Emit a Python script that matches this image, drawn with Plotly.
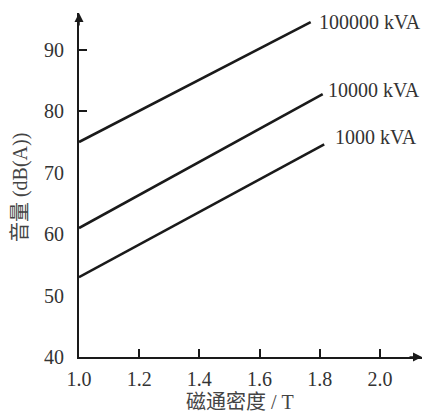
import plotly.graph_objects as go

# Data
series_names = ["100000 kVA", "10000 kVA", "1000 kVA"]
flux_start = [1.0, 1.0, 1.0]
flux_end = [1.77, 1.81, 1.815]
noise_start = [75.0, 61.0, 53.0]
noise_end = [94.5, 82.8, 74.6]

x_ticks = [1.0, 1.2, 1.4, 1.6, 1.8, 2.0]
x_ticklabels = ["1.0", "1.2", "1.4", "1.6", "1.8", "2.0"]
y_ticks = [40, 50, 60, 70, 80, 90]
y_ticklabels = ["40", "50", "60", "70", "80", "90"]
y_marked_ticks = [80, 90]

x_title = "磁通密度 / T"
y_title = "音量 (dB(A))"

# label offsets in pixels (style, not data)
label_shift = [(6, 0), (3, 4), (9, 7)]

serif = "Liberation Serif, Noto Sans CJK SC, serif"
line_col = "#1a1a1a"
txt_col = "#333333"
FS = 20

fig = go.Figure()
for i, name in enumerate(series_names):
    fig.add_trace(go.Scatter(
        x=[flux_start[i], flux_end[i]],
        y=[noise_start[i], noise_end[i]],
        mode="lines",
        line=dict(color=line_col, width=2.6),
        name=name,
        showlegend=False,
        hoverinfo="skip",
    ))
    dx, dy = label_shift[i]
    fig.add_annotation(
        x=flux_end[i], y=noise_end[i], xref="x", yref="y",
        text=name, showarrow=False, xanchor="left", yanchor="middle",
        xshift=dx, yshift=dy,
        font=dict(family=serif, size=FS, color=txt_col),
    )

# invisible trace for second y axis (ticks at 80, 90 only)
fig.add_trace(go.Scatter(x=[1.0], y=[40], yaxis="y2", mode="markers",
                         marker=dict(opacity=0), showlegend=False, hoverinfo="skip"))

x_range = [1.0, 2.14]
y_range = [40, 96]

fig.update_layout(
    width=428, height=416,
    margin=dict(l=79, r=6, t=13, b=59, autoexpand=False),
    paper_bgcolor="white", plot_bgcolor="white",
    showlegend=False,
    xaxis=dict(
        range=x_range, tickvals=x_ticks, ticktext=x_ticklabels,
        ticks="inside", ticklen=8, tickwidth=1.5, tickcolor=line_col,
        showline=True, linecolor=line_col, linewidth=2,
        showgrid=False, zeroline=False, fixedrange=True,
        tickfont=dict(family=serif, size=FS, color=txt_col),
        ticklabelstandoff=3, automargin=False,
    ),
    yaxis=dict(
        range=y_range, tickvals=y_ticks, ticktext=y_ticklabels,
        ticks="", showline=True, linecolor=line_col, linewidth=2,
        showgrid=False, zeroline=False, fixedrange=True,
        tickfont=dict(family=serif, size=FS, color=txt_col),
        ticklabelstandoff=9, automargin=False,
    ),
    yaxis2=dict(
        range=y_range, overlaying="y", anchor="x", side="left",
        tickvals=y_marked_ticks, ticks="inside", ticklen=8, tickwidth=1.5,
        tickcolor=line_col, showticklabels=False, showline=False,
        showgrid=False, zeroline=False, fixedrange=True, automargin=False,
    ),
)

# axis titles
fig.add_annotation(
    text=x_title, xref="paper", yref="paper", x=0.468, y=-0.131,
    xanchor="center", yanchor="middle", showarrow=False,
    font=dict(family=serif, size=FS, color="#444444"),
)
fig.add_annotation(
    text=y_title, xref="paper", yref="paper", x=-0.172, y=0.491,
    xanchor="center", yanchor="middle", showarrow=False, textangle=-90,
    font=dict(family=serif, size=FS, color="#444444"),
)

# arrowheads at axis ends
fig.add_annotation(x=1, y=0, xref="paper", yref="paper", ax=-14, ay=0,
                   axref="pixel", ayref="pixel", text="", showarrow=True,
                   arrowhead=2, arrowsize=1.2, arrowwidth=1.5, arrowcolor=line_col)
fig.add_annotation(x=0, y=1, xref="paper", yref="paper", ax=0, ay=14,
                   axref="pixel", ayref="pixel", text="", showarrow=True,
                   arrowhead=2, arrowsize=1.2, arrowwidth=1.5, arrowcolor=line_col)

fig.write_html("out.html", config={"displayModeBar": False},
               post_script="document.body.style.margin='0';")
